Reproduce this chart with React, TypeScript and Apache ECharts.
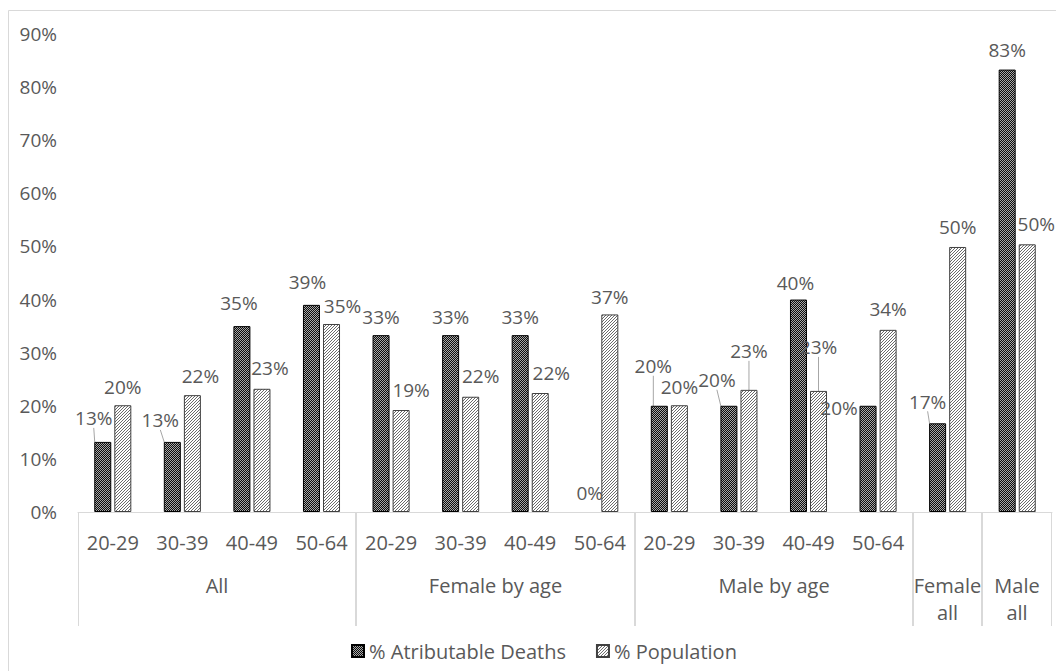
import React, { useEffect, useRef } from 'react';
import * as echarts from 'echarts';

// ---- data ----
const ageLabels = ['20-29', '30-39', '40-49', '50-64', '20-29', '30-39', '40-49', '50-64', '20-29', '30-39', '40-49', '50-64', '', ''];
const groupNames = ['All', 'Female by age', 'Male by age', 'Female\nall', 'Male\nall'];
const groupStart = [0, 4, 8, 12, 13];
const groupEnd = [3, 7, 11, 12, 13];
const deathsValues = [0.132, 0.132, 0.35, 0.39, 0.333, 0.333, 0.333, 0, 0.2, 0.2, 0.4, 0.2, 0.167, 0.833];
const populationValues = [0.201, 0.22, 0.232, 0.354, 0.192, 0.217, 0.224, 0.372, 0.201, 0.23, 0.228, 0.343, 0.499, 0.504];
const seriesNames = ['% Atributable Deaths', '% Population'];
const yMin = 0;
const yMax = 0.9;
const yStep = 0.1;

// ---- label placement (mimics the original's label nudges) ----
const deathShiftX = [-9, -12, -3, -4, 0, 0, 0, 0, -6, -12, -3, -29, -10, 0];
const deathShiftY = [-4, -2, -4, -3, 1, 1, 1, 0, -20, -6, 3, 22, -2, 0];
const deathLeader = [0, 1, 8, 9, 12];
const popShiftX = [0, 8, 8, 11, 10, 10, 11, 0, 0, 0, 0, 0, 0, 9];
const popShiftY = [1, 0, -1, 2, -1, -1, -1, 2, 1, -19, -24, -1, 0, -1];
const popLeader = [9, 10];

const FONT = '"Open Sans", "Noto Sans", sans-serif';
const FS = 19; // percentages
const FS_TXT = 20; // word/range labels
const TXT = '#595959';
const LINE = '#d9d9d9';

function makeDarkPattern(): HTMLCanvasElement {
  const c = document.createElement('canvas');
  c.width = 2;
  c.height = 2;
  const ctx = c.getContext('2d')!;
  ctx.fillStyle = '#0d0d0d';
  ctx.fillRect(0, 0, 2, 2);
  ctx.fillStyle = '#a8a8a8';
  ctx.fillRect(0, 0, 1, 1);
  ctx.fillRect(1, 1, 1, 1);
  return c;
}

function makeHatchPattern(): HTMLCanvasElement {
  const c = document.createElement('canvas');
  c.width = 3;
  c.height = 3;
  const ctx = c.getContext('2d')!;
  ctx.fillStyle = '#ffffff';
  ctx.fillRect(0, 0, 3, 3);
  ctx.fillStyle = '#6a6a6a';
  ctx.fillRect(2, 0, 1, 1);
  ctx.fillRect(1, 1, 1, 1);
  ctx.fillRect(0, 2, 1, 1);
  return c;
}

const pct = (v: number) => Math.round(v * 100) + '%';

export default function App() {
  const ref = useRef<HTMLDivElement>(null);

  useEffect(() => {
    if (!ref.current) return;
    const chart = echarts.init(ref.current, undefined, { renderer: 'svg' });
    const darkFill = { image: makeDarkPattern(), repeat: 'repeat' };
    const hatchFill = { image: makeHatchPattern(), repeat: 'repeat' };

    const leaderLine = { show: true, lineStyle: { color: '#a6a6a6', width: 1 } };

    const deathData = deathsValues.map((v, i) => {
      const item: any = { value: v };
      if (deathLeader.includes(i)) item.labelLine = leaderLine;
      if (v === 0) item.itemStyle = { borderWidth: 0 };
      return item;
    });
    const popData = populationValues.map((v, i) => {
      const item: any = { value: v };
      if (popLeader.includes(i)) item.labelLine = leaderLine;
      return item;
    });

    const labelBase = {
      show: true,
      position: 'top',
      distance: 10,
      color: TXT,
      fontSize: FS,
      fontFamily: FONT,
      formatter: (p: any) => pct(p.value),
    };

    const option: any = {
      animation: false,
      textStyle: { fontFamily: FONT },
      graphic: [
        {
          type: 'rect',
          silent: true,
          shape: { x: 8.5, y: 10.5, width: 1100, height: 700 },
          style: { fill: 'none', stroke: LINE, lineWidth: 1 },
        },
      ],
      grid: { left: 78, right: 4, top: 34, bottom: 159, containLabel: false },
      legend: {
        show: true,
        data: seriesNames,
        left: 346,
        top: 636,
        icon: 'rect',
        itemWidth: 12,
        itemHeight: 12,
        itemGap: 30,
        textStyle: { color: TXT, fontSize: FS_TXT, fontFamily: FONT },
      },
      xAxis: {
        type: 'category',
        data: ageLabels,
        axisLine: { show: true, lineStyle: { color: LINE, width: 1 } },
        axisTick: { show: false },
        axisLabel: { interval: 0, color: TXT, fontSize: FS_TXT, fontFamily: FONT, margin: 20 },
        splitLine: { show: false },
      },
      yAxis: {
        type: 'value',
        min: yMin,
        max: yMax,
        interval: yStep,
        axisLine: { show: false },
        axisTick: { show: false },
        splitLine: { show: false },
        axisLabel: {
          color: TXT,
          fontSize: FS,
          fontFamily: FONT,
          margin: 21,
          formatter: (v: number) => pct(v),
        },
      },
      series: [
        {
          name: seriesNames[0],
          type: 'bar',
          data: deathData,
          barWidth: 17,
          barGap: '18%',
          itemStyle: { color: darkFill, borderColor: '#000000', borderWidth: 1 },
          label: labelBase,
          labelLine: { show: false },
          labelLayout: (p: any) => ({ dx: deathShiftX[p.dataIndex], dy: deathShiftY[p.dataIndex] }),
        },
        {
          name: seriesNames[1],
          type: 'bar',
          data: popData,
          barWidth: 17,
          barGap: '18%',
          itemStyle: { color: hatchFill, borderColor: '#404040', borderWidth: 1 },
          label: labelBase,
          labelLine: { show: false },
          labelLayout: (p: any) => ({ dx: popShiftX[p.dataIndex], dy: popShiftY[p.dataIndex] }),
        },
        {
          type: 'custom',
          name: 'groups',
          silent: true,
          clip: false,
          data: groupStart.map((s, i) => [s, groupEnd[i]]),
          renderItem: (params: any, api: any) => {
            const i = params.dataIndex;
            const s = api.value(0);
            const e = api.value(1);
            const p0 = api.coord([s, 0]);
            const p1 = api.coord([e, 0]);
            const band = api.size([1, 0])[0];
            const x0 = Math.round(p0[0] - band / 2) + 0.5;
            const x1 = Math.round(p1[0] + band / 2) - 0.5;
            const y0 = p0[1];
            return {
              type: 'group',
              children: [
                { type: 'line', shape: { x1: x0, y1: y0, x2: x0, y2: y0 + 114 }, style: { stroke: LINE, lineWidth: 1 } },
                { type: 'line', shape: { x1: x1, y1: y0, x2: x1, y2: y0 + 114 }, style: { stroke: LINE, lineWidth: 1 } },
                {
                  type: 'text',
                  x: (x0 + x1) / 2,
                  y: y0 + 60,
                  style: {
                    text: groupNames[i],
                    fill: TXT,
                    font: FS_TXT + 'px ' + FONT,
                    align: 'center',
                    verticalAlign: 'top',
                    lineHeight: 27,
                  },
                },
              ],
            };
          },
        },
      ],
    };

    chart.setOption(option);
    return () => chart.dispose();
  }, []);

  return (
    <div
      ref={ref}
      style={{ position: 'fixed', left: 0, top: 0, width: 1056, height: 671, background: '#ffffff' }}
    />
  );
}
